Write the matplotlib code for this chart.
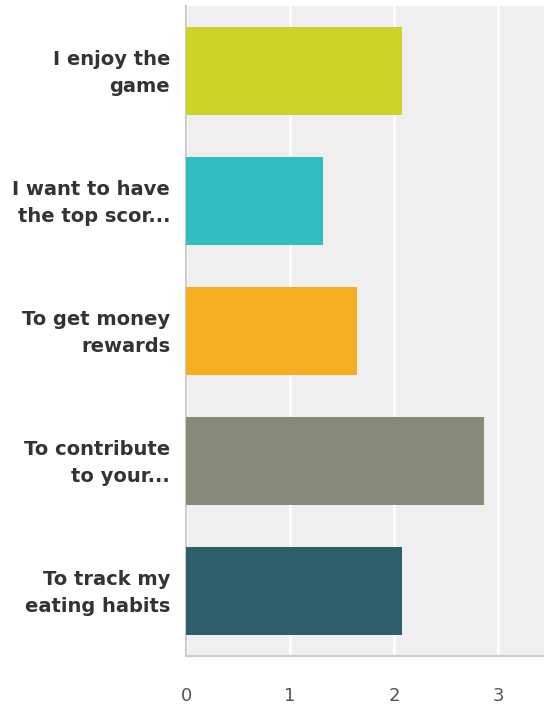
import numpy as np
import matplotlib.pyplot as plt
import matplotlib.transforms as mtransforms

# survey answers, top to bottom
labels = ["I enjoy the\ngame",
          "I want to have\nthe top scor...",
          "To get money\nrewards",
          "To contribute\nto your...",
          "To track my\neating habits"]
scores = [2.08, 1.32, 1.64, 2.86, 2.08]
colors = ["#CED329", "#31BEC0", "#F6AE21", "#888A78", "#2E5F6B"]
xticks = [0, 1, 2, 3]

plt.rcParams['font.family'] = ['DejaVu Sans']

fig = plt.figure(figsize=(5.44, 7.08), dpi=100)
ax = fig.add_axes([186/544, 52/708, 1 - 186/544, 650/708])

ypos = np.arange(len(labels))
ax.barh(ypos, scores, height=0.67, color=colors, zorder=3)

ax.set_facecolor("#EFEFEF")
ax.set_xlim(0, 3.44)
ax.set_ylim(len(labels) - 0.5, -0.5)

ax.set_xticks(xticks)
ax.set_xticklabels([str(t) for t in xticks], fontsize=13, color="#555555")
ax.set_yticks(ypos)
ax.set_yticklabels(labels, fontsize=14, fontweight="bold", color="#333333",
                   linespacing=1.5)
ax.tick_params(axis="both", length=0)
ax.tick_params(axis="y", pad=11.5)
ax.tick_params(axis="x", pad=22)

# nudge the category labels up a little
shift = mtransforms.ScaledTranslation(0, 4/100, fig.dpi_scale_trans)
for lbl in ax.get_yticklabels():
    lbl.set_transform(lbl.get_transform() + shift)

ax.grid(axis="x", color="white", linewidth=2, zorder=1)
ax.set_axisbelow(True)

for side in ["top", "right"]:
    ax.spines[side].set_visible(False)
for side in ["left", "bottom"]:
    ax.spines[side].set_color("#CCCCCC")
    ax.spines[side].set_linewidth(1.5)

fig.savefig("out.png", dpi=100)
